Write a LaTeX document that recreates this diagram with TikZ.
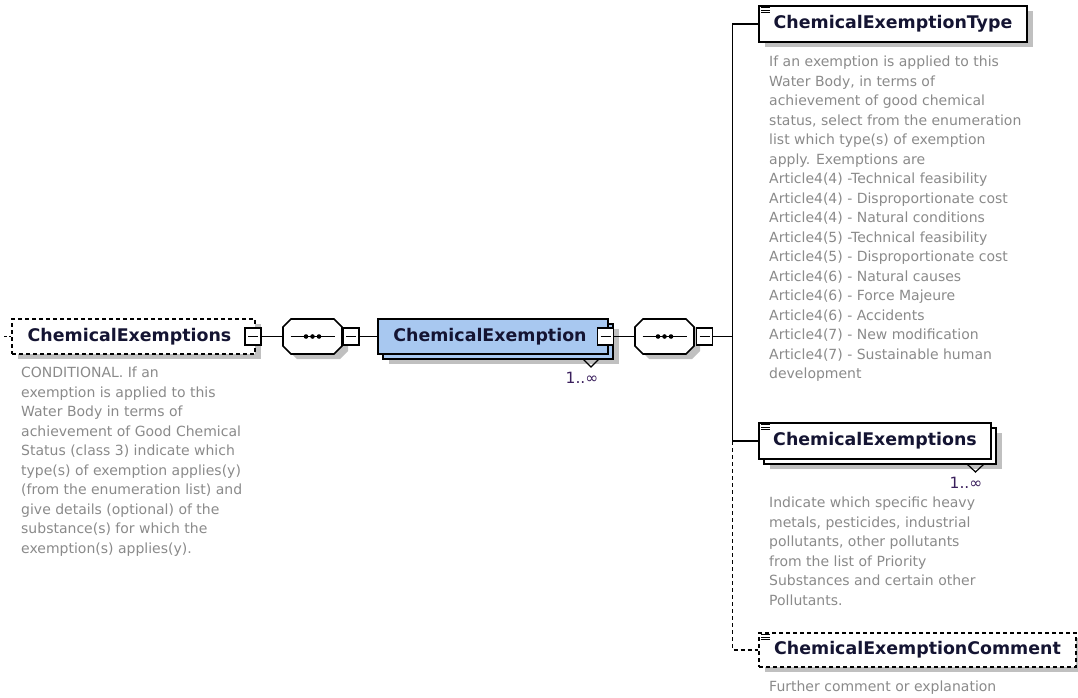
\documentclass[tikz,border=0pt]{standalone}
\usepackage{fontspec}
\setmainfont{DejaVu Sans}
\usetikzlibrary{shadows}

\definecolor{titlecol}{HTML}{141432}
\definecolor{doccol}{HTML}{8A8A8A}
\definecolor{blockblue}{HTML}{A8C8F0}
\definecolor{shadowcol}{HTML}{C0C0C0}
\definecolor{multcol}{HTML}{3A1F5C}

\tikzset{
  boxshadow/.style={drop shadow={shadow xshift=6pt, shadow yshift=-5pt, fill=shadowcol, opacity=1}},
  elembox/.style={draw, line width=1.6pt, fill=white, inner sep=0pt, minimum height=35pt,
    font=\fontsize{17.4}{20}\selectfont\bfseries, text=titlecol},
  optbox/.style={elembox, dash pattern=on 4pt off 3pt},
  seqbox/.style={inner sep=0pt, minimum width=59pt, minimum height=35pt},
  expander/.style={draw, line width=1.4pt, fill=white, minimum width=16pt, minimum height=17pt, inner sep=0pt,
    path picture={\draw[line width=1.4pt] ([xshift=3pt]path picture bounding box.west)
      -- ([xshift=-3pt]path picture bounding box.east);}},
  doctext/.style={anchor=north west, inner sep=0pt, align=left, text=doccol,
    font=\fontsize{14}{19.5}\selectfont},
  multtext/.style={inner sep=0pt, text=multcol, font=\fontsize{15.5}{17}\selectfont},
  wire/.style={line width=1.6pt},
}

% three short bars in the top-left corner of an element box
\newcommand\elemicon[1]{%
  \foreach \k in {0,1,2}
    \draw[line width=1pt] ([xshift=3pt,yshift={-2.5pt-2.5pt*\k}]#1.north west) -- ++(9,0);}

% octagon of a sequence compositor, offset by (#2,#3) pt, drawn with options #4
\newcommand\octagonat[4]{%
  \path[#4] ([xshift={-21.5pt+#2pt},yshift={17.5pt-#3pt}]#1.center)
    -- ++(43,0) -- ++(8,8) -- ++(0,19) -- ++(-8,8) -- ++(-43,0) -- ++(-8,-8) -- ++(0,-19) -- cycle;}

% sequence compositor: shadow, outline and the "..." glyph
\newcommand\seqmark[1]{%
  \octagonat{#1}{6}{5}{fill=shadowcol}
  \octagonat{#1}{0}{0}{draw, fill=white, line width=1.6pt}
  \draw[line width=1.6pt] ([xshift=-22pt]#1.center) -- ([xshift=22pt]#1.center);
  \foreach \dx in {-6.5,0,6.5}
    \fill ([xshift=\dx pt]#1.center) circle (2.3pt);}

\begin{document}
\begin{tikzpicture}[x=1pt,y=-1pt]
\useasboundingbox (0,0) rectangle (1078,697);

% ---- root element ----
\node[optbox, boxshadow, minimum width=243pt] (root) at (133.5,336.5) {ChemicalExemptions\hspace*{8pt}};
\coordinate (rootin) at (4,336.5);
\draw[wire, dash pattern=on 3pt off 2pt] (rootin) -- (root.west);
\node[expander] (m0) at (253,336.5) {};
\node[doctext] (rootdoc) at (21,367) {CONDITIONAL. If an\\exemption is applied to this\\Water Body in terms of\\achievement of Good Chemical\\Status (class 3) indicate which\\type(s) of exemption applies(y)\\(from the enumeration list) and\\give details (optional) of the\\substance(s) for which the\\exemption(s) applies(y).};

% ---- first sequence ----
\node[seqbox] (seq1) at (312.5,336.5) {};
\seqmark{seq1}
\node[expander] (m1) at (351,336.5) {};
\draw[wire] (m0.east) -- (seq1.west);

% ---- repeated complex element ----
\node[draw, line width=1.6pt, fill=blockblue, minimum width=230pt, minimum height=35pt,
      inner sep=0pt, boxshadow] (ceback) at (498,341.5) {};
\node[elembox, fill=blockblue, minimum width=230pt] (ce) at (493,336.5) {ChemicalExemption\hspace*{6pt}};
\node[expander] (m2) at (605.5,336.5) {};
\draw[wire] (m1.east) -- (ce.west);
\draw[line width=1.2pt] (583,359) -- (591,367) -- (599,359);
\node[multtext] (mult1) at (582,378) {1..∞};

% ---- second sequence ----
\node[seqbox] (seq2) at (664.5,336.5) {};
\seqmark{seq2}
\node[expander] (m3) at (704.5,336.5) {};
\draw[wire] (m2.east) -- (seq2.west);
\coordinate (bus) at (732.5,336.5);
\draw[wire] (m3.east) -- (bus);

% ---- ChemicalExemptionType ----
\node[elembox, boxshadow, minimum width=268pt, minimum height=36pt] (cet) at (893,24) {ChemicalExemptionType};
\elemicon{cet}
\draw[wire] (bus) |- (cet.west);
\node[doctext] (cetdoc) at (769,56) {If an exemption is applied to this\\Water Body, in terms of\\achievement of good chemical\\status, select from the enumeration\\list which type(s) of exemption\\apply. Exemptions are\\Article4(4) -Technical feasibility\\Article4(4) - Disproportionate cost\\Article4(4) - Natural conditions\\Article4(5) -Technical feasibility\\Article4(5) - Disproportionate cost\\Article4(6) - Natural causes\\Article4(6) - Force Majeure\\Article4(6) - Accidents\\Article4(7) - New modification\\Article4(7) - Sustainable human\\development};

% ---- ChemicalExemptions (repeated) ----
\node[draw, line width=1.6pt, fill=white, minimum width=232pt, minimum height=36pt,
      inner sep=0pt, boxshadow] (cesback) at (880,446) {};
\node[elembox, minimum width=232pt, minimum height=36pt] (ces) at (875,441) {ChemicalExemptions};
\elemicon{ces}
\draw[wire] (bus) |- (ces.west);
\draw[line width=1.2pt] (967,464) -- (975.5,472) -- (984,464);
\node[multtext] (mult2) at (966,483) {1..∞};
\node[doctext] (cesdoc) at (769,497) {Indicate which specific heavy\\metals, pesticides, industrial\\pollutants, other pollutants\\from the list of Priority\\Substances and certain other\\Pollutants.};

% ---- ChemicalExemptionComment (optional) ----
\node[optbox, boxshadow, minimum width=317pt, minimum height=34pt] (cmt) at (917.5,650) {ChemicalExemptionComment};
\elemicon{cmt}
\draw[wire, dash pattern=on 4pt off 3pt] (bus |- ces.west) |- (cmt.west);
\node[doctext] (cmtdoc) at (769,681) {Further comment or explanation};
\end{tikzpicture}
\end{document}
